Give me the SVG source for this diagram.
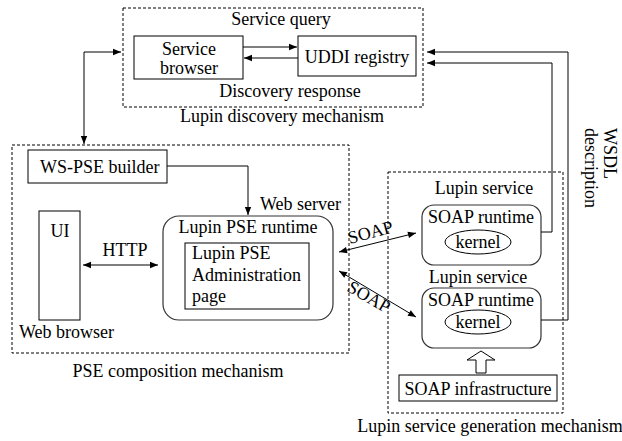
<svg xmlns="http://www.w3.org/2000/svg" width="622" height="441" viewBox="0 0 622 441" font-family="'Liberation Serif', 'DejaVu Serif', serif" font-size="18">
<style>
text{font-family:'Liberation Serif','DejaVu Serif',serif;font-size:18px;fill:#000}
.c{text-anchor:middle}
.box{fill:#fff;stroke:#000;stroke-width:1}
.rbox{fill:#fff;stroke:#333;stroke-width:1.2}
.dash{fill:none;stroke:#000;stroke-width:1;stroke-dasharray:3 2}
.ln{fill:none;stroke:#000;stroke-width:1}
.a{marker-end:url(#ah)}
.aa{marker-start:url(#ah);marker-end:url(#ah)}
</style>
<defs>
<marker id="ah" viewBox="0 0 10 10" refX="10" refY="5" markerWidth="9" markerHeight="8" markerUnits="userSpaceOnUse" orient="auto-start-reverse">
<path d="M0,1 L10,5 L0,9 z" fill="#000"/>
</marker>
</defs>
<rect width="622" height="441" fill="#fff"/>

<g id="discovery">
<rect class="dash" x="123" y="8" width="300" height="99"/>
<text class="c" x="281" y="25">Service query</text>
<text class="c" x="290" y="97">Discovery response</text>
<text class="c" x="282" y="122">Lupin discovery mechanism</text>
</g>
<g id="service-browser">
<rect class="box" x="134" y="36" width="109" height="43"/>
<text class="c" x="189" y="55">Service</text>
<text class="c" x="189" y="74">browser</text>
</g>
<g id="uddi-registry">
<rect class="box" x="298" y="36" width="118" height="40"/>
<text class="c" x="357" y="63">UDDI registry</text>
</g>

<g id="pse-composition">
<rect class="dash" x="12" y="145" width="337" height="208"/>
<text x="260" y="210">Web server</text>
<text x="19" y="338">Web browser</text>
<text class="c" x="178" y="377">PSE composition mechanism</text>
</g>
<g id="ws-pse-builder">
<rect class="box" x="28" y="150" width="139" height="33"/>
<text x="40" y="173">WS-PSE builder</text>
</g>
<g id="ui">
<rect class="box" x="39" y="211" width="41" height="109"/>
<text class="c" x="60" y="237">UI</text>
</g>
<g id="lupin-pse-runtime">
<rect class="rbox" x="163" y="216" width="170" height="104" rx="16"/>
<text class="c" x="248" y="233">Lupin PSE runtime</text>
<rect class="box" x="185" y="243" width="124" height="66"/>
<text x="192" y="259">Lupin PSE</text>
<text x="192" y="281">Administration</text>
<text x="192" y="302">page</text>
</g>

<g id="service-generation">
<rect class="dash" x="388" y="172" width="175" height="241"/>
<text class="c" x="484" y="194">Lupin service</text>
<text class="c" x="478" y="283">Lupin service</text>
<text class="c" x="490" y="432">Lupin service generation mechanism</text>
</g>
<g id="soap-runtime-1">
<rect class="rbox" x="422" y="205" width="119" height="60" rx="12"/>
<text class="c" x="481" y="223">SOAP runtime</text>
<ellipse class="box" cx="478" cy="242" rx="33" ry="12"/>
<text class="c" x="478" y="248">kernel</text>
</g>
<g id="soap-runtime-2">
<rect class="rbox" x="422" y="288" width="119" height="60" rx="12"/>
<text class="c" x="481" y="306">SOAP runtime</text>
<ellipse class="box" cx="478" cy="322" rx="33" ry="12"/>
<text class="c" x="478" y="328">kernel</text>
</g>
<g id="soap-infrastructure">
<rect class="box" x="399" y="375" width="158" height="26"/>
<text class="c" x="478" y="395">SOAP infrastructure</text>
</g>

<g id="connectors">
<line class="ln a" x1="243" y1="47" x2="297" y2="47"/>
<line class="ln a" x1="298" y1="58" x2="244" y2="58"/>
<polyline class="ln aa" points="121,52 84,52 84,144"/>
<polyline class="ln a" points="167,166 248,166 248,215"/>
<line class="ln aa" x1="83" y1="265" x2="158" y2="265"/>
<text class="c" x="125" y="256">HTTP</text>
<line class="ln aa" x1="339" y1="252" x2="416" y2="233"/>
<line class="ln aa" x1="339" y1="271" x2="416" y2="317"/>
<text class="c" transform="translate(372,238) rotate(-15)">SOAP</text>
<text class="c" transform="translate(366,302) rotate(30)">SOAP</text>
<polyline class="ln a" points="541,232 552,232 552,63 427,63"/>
<polyline class="ln a" points="541,320 568,320 568,52 427,52"/>
<path d="M481,351 L495,360 L486,360 L486,373 L476,373 L476,360 L467,360 Z" fill="#fff" stroke="#000" stroke-width="1"/>
<text transform="translate(604,128) rotate(90)">WSDL</text>
<text transform="translate(585,128) rotate(90)">description</text>
</g>
</svg>
